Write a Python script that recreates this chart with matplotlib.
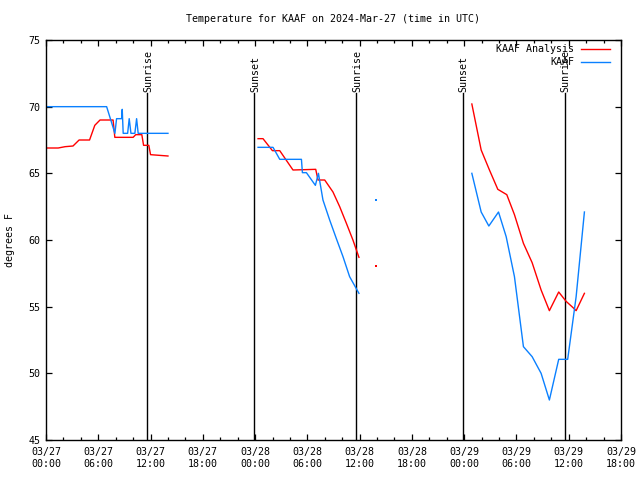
import numpy as np
import matplotlib
matplotlib.use("Agg")
import matplotlib.pyplot as plt

nan = np.nan

# ---- data (hours since 2024-03-27 00:00 UTC, temperature in F) ----
analysis_hours = [0.0, 1.4, 2.2, 3.1, 3.8, 5.0, 5.6, 6.2, 7.7, 7.9, 10.0, 10.3, 11.0, 11.2, 11.8, 12.0, 14.0,
                  nan,
                  24.34, 24.91, 25.99, 26.83, 28.35, 30.96, 31.22, 31.99, 32.94, 33.71, 34.48, 35.23, 35.92,
                  nan,
                  37.92,
                  nan,
                  48.88, 49.95, 50.9, 51.86, 52.89, 53.77, 54.8, 55.8, 56.83, 57.78, 58.85, 59.7, 60.54, 60.85, 61.8]
analysis_temp = [66.9, 66.9, 67.0, 67.05, 67.5, 67.5, 68.6, 69.0, 69.0, 67.7, 67.7, 67.9, 67.9, 67.1, 67.1, 66.4, 66.3,
                 nan,
                 67.6, 67.6, 66.7, 66.7, 65.25, 65.3, 64.5, 64.5, 63.6, 62.5, 61.25, 60.0, 58.7,
                 nan,
                 58.05,
                 nan,
                 70.2, 66.75, 65.25, 63.8, 63.4, 61.9, 59.75, 58.3, 56.25, 54.7, 56.1, 55.4, 54.9, 54.7, 56.0]

obs_hours = [0.0, 6.96, 7.72, 7.91, 8.1, 8.68, 8.75, 8.86, 9.37, 9.55, 9.75, 10.2, 10.4, 10.58, 14.0,
             nan,
             24.34, 26.06, 26.83, 29.32, 29.43, 29.89, 30.92, 31.27, 31.79, 32.56, 33.33, 34.09, 34.85, 35.92,
             nan,
             37.92,
             nan,
             48.88, 49.95, 50.83, 51.94, 52.82, 53.77, 54.8, 55.8, 56.83, 57.78, 58.85, 59.88, 60.85, 61.8]
obs_temp = [70.0, 70.0, 68.4, 68.0, 69.1, 69.1, 69.8, 68.0, 68.0, 69.1, 68.0, 68.0, 69.1, 68.0, 68.0,
            nan,
            66.95, 66.95, 66.05, 66.05, 65.05, 65.05, 64.1, 65.0, 63.0, 61.5, 60.1, 58.75, 57.25, 56.0,
            nan,
            63.0,
            nan,
            65.0, 62.1, 61.05, 62.1, 60.25, 57.25, 52.0, 51.25, 50.0, 48.0, 51.05, 51.05, 55.75, 62.1]

event_names = ["Sunrise", "Sunset", "Sunrise", "Sunset", "Sunrise"]
event_hours = [11.61, 23.88, 35.6, 47.85, 59.55]

x_tick_hours = list(range(0, 67, 6))
x_tick_labels = ["03/27\n00:00", "03/27\n06:00", "03/27\n12:00", "03/27\n18:00",
                 "03/28\n00:00", "03/28\n06:00", "03/28\n12:00", "03/28\n18:00",
                 "03/29\n00:00", "03/29\n06:00", "03/29\n12:00", "03/29\n18:00"]
y_ticks = [45, 50, 55, 60, 65, 70, 75]

series_labels = ["KAAF Analysis", "KAAF"]
series_colors = ["#ff0000", "#0a80ff"]

# ---- figure ----
plt.rcParams["font.family"] = ["DejaVu Sans Mono"]
FS = 7.2
fig = plt.figure(figsize=(6.4, 4.8), dpi=100)
ax = fig.add_axes([46 / 640, 40 / 480, 575 / 640, 400 / 480])
ax.set_xlim(0, 66)
ax.set_ylim(45, 75)

# event lines and labels
for name, h in zip(event_names, event_hours):
    ax.plot([h, h], [45, 71.05], color="black", lw=1.0, zorder=1)
    ax.text(h + 0.1, 71.1, name, rotation=90, ha="center", va="bottom", fontsize=FS, zorder=3)


def draw(hours, temps, color):
    h = np.array(hours, float)
    t = np.array(temps, float)
    ax.plot(h, t, color=color, lw=1.0, zorder=2)
    ok = np.isfinite(t)
    prev = np.r_[False, ok[:-1]]
    nxt = np.r_[ok[1:], False]
    iso = ok & ~prev & ~nxt
    ax.plot(h[iso], t[iso], "s", color=color, ms=1.6, mew=0, zorder=2)


draw(analysis_hours, analysis_temp, series_colors[0])
draw(obs_hours, obs_temp, series_colors[1])

# axes styling
ax.set_xticks(x_tick_hours)
ax.set_xticklabels(x_tick_labels, fontsize=FS)
ax.set_xticks(list(range(0, 67, 2)), minor=True)
ax.set_yticks(y_ticks)
ax.set_yticklabels([str(v) for v in y_ticks], fontsize=FS)
ax.tick_params(axis="both", which="major", direction="in", length=4.5, width=0.9,
               top=True, right=True, labelsize=FS)
ax.tick_params(axis="x", which="major", pad=5)
ax.tick_params(axis="y", which="major", pad=4)
ax.tick_params(axis="x", which="minor", direction="in", length=2.5, width=0.9, top=True)
for s in ax.spines.values():
    s.set_linewidth(1.0)

# legend (manual, gnuplot-style right aligned)
for i, (lab, col) in enumerate(zip(series_labels, series_colors)):
    py = 49.3 + 13 * i
    yf = 1 - (py - 40) / 400
    ax.text((574.5 - 46) / 575, yf, lab, transform=ax.transAxes, ha="right", va="center",
            fontsize=FS, zorder=4)
    ax.plot([(581 - 46) / 575, (609.5 - 46) / 575], [yf, yf], transform=ax.transAxes,
            color=col, lw=1.0, zorder=4)

fig.text(333.5 / 640, 1 - 19 / 480, "Temperature for KAAF on 2024-Mar-27 (time in UTC)",
         ha="center", va="center", fontsize=FS)
fig.text(10 / 640, 0.5, "degrees F", rotation=90, ha="center", va="center", fontsize=FS)

fig.savefig("out.png", dpi=100)
